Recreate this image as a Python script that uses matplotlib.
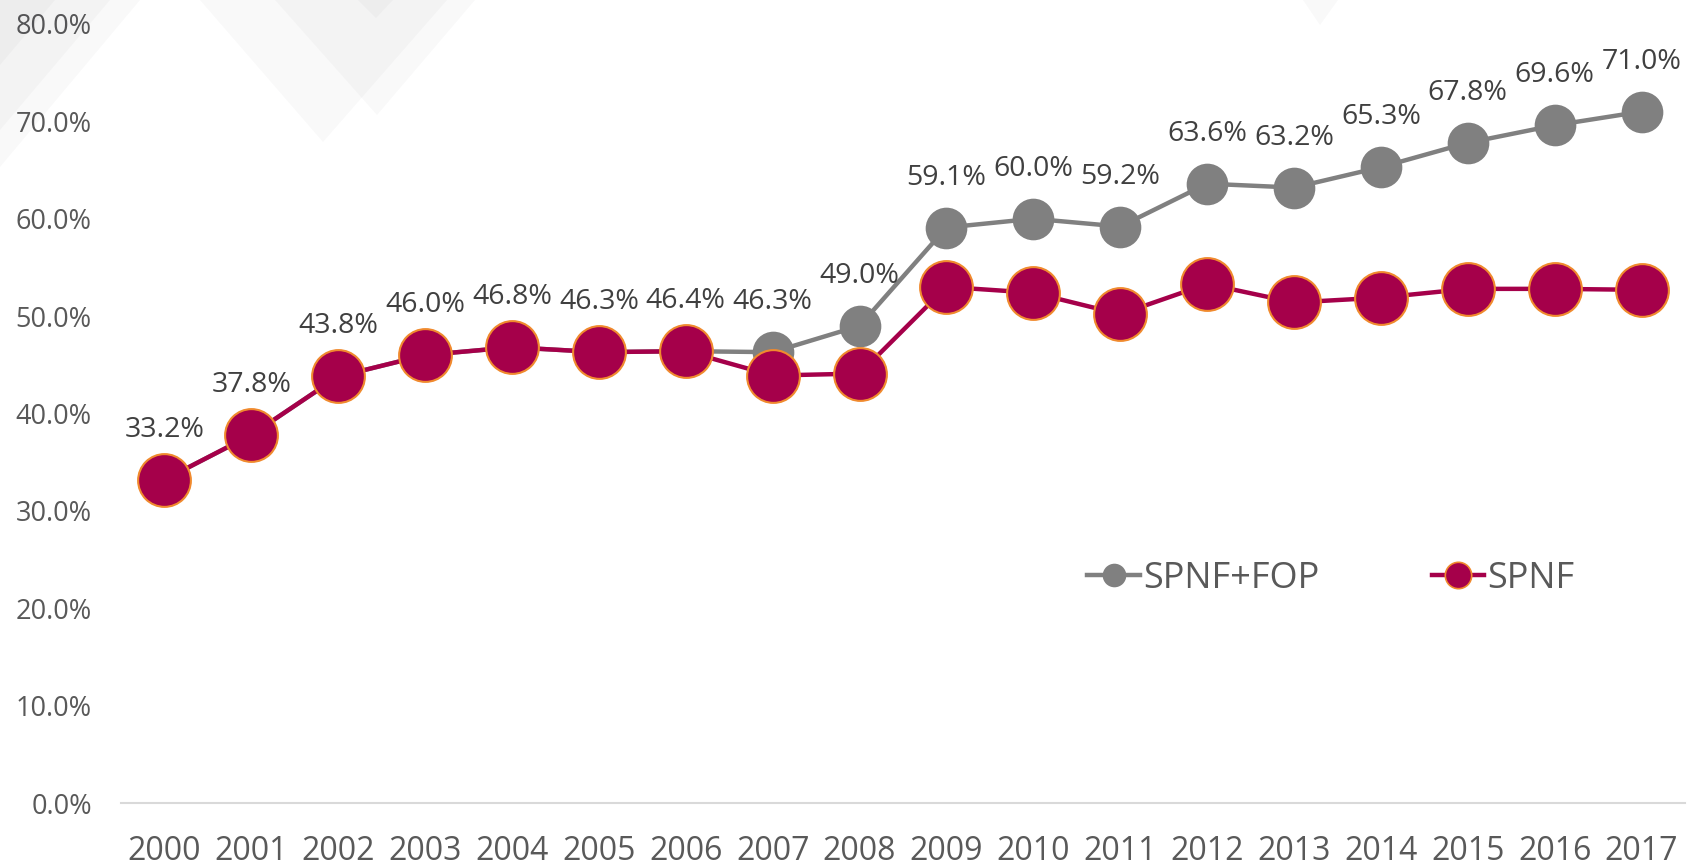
import matplotlib
matplotlib.use("Agg")
import matplotlib.pyplot as plt
from matplotlib.patches import Polygon
from matplotlib.lines import Line2D

years = [str(y) for y in range(2000, 2018)]
spnf_fop = [33.2, 37.8, 43.8, 46.0, 46.8, 46.3, 46.4, 46.3, 49.0, 59.1, 60.0, 59.2,
            63.6, 63.2, 65.3, 67.8, 69.6, 71.0]
spnf = [33.2, 37.8, 43.8, 46.0, 46.8, 46.3, 46.4, 43.9, 44.1, 53.0, 52.4, 50.2,
        53.3, 51.4, 51.9, 52.8, 52.8, 52.7]
yticks = [0, 10, 20, 30, 40, 50, 60, 70, 80]
series_names = ["SPNF+FOP", "SPNF"]

plt.rcParams['font.family'] = ['Open Sans', 'DejaVu Sans']

W, H = 1696, 866
fig = plt.figure(figsize=(W / 100, H / 100), dpi=100)
fig.patch.set_facecolor('white')

# faint background watermark triangles (pixel coords of the figure)
def tri(pts, alpha=0.026):
    p = Polygon([(x / W, 1 - y / H) for x, y in pts], closed=True,
                transform=fig.transFigure, facecolor='#30303c', edgecolor='none',
                alpha=alpha, zorder=0)
    fig.patches.append(p)

tri([(0, 0), (140, 0), (0, 167)])
tri([(0, 0), (110, 0), (0, 130)])
tri([(0, 0), (55, 0), (0, 65)])
tri([(200, 0), (323, 142), (447, 0)])
tri([(275, 0), (377, 115), (475, 0)])
tri([(358, 0), (376, 18), (393, 0)])
tri([(1303, 0), (1320, 25), (1338, 0)])

ax = fig.add_axes([121 / W, 1 - 803 / H, (1685 - 121) / W, (803 - 24) / H])
ax.patch.set_alpha(0)

x = list(range(len(years)))
gray = '#808080'
maroon = '#A5004A'
orange = '#F08A2E'

ax.plot(x, spnf_fop, color=gray, lw=3.2, marker='o', ms=30, mfc=gray, mec=gray,
        mew=0, zorder=2, clip_on=False, solid_capstyle='round')
ax.plot(x, spnf, color=maroon, lw=3.2, marker='o', ms=38, mfc=maroon, mec=orange,
        mew=1.5, zorder=3, clip_on=False, solid_capstyle='round')

for xi, v in zip(x, spnf_fop):
    ax.annotate(f"{v:.1f}%", (xi, v), xytext=(0, 36), textcoords='offset points',
                ha='center', va='center', fontsize=20.5, color='#404040', zorder=5)

ax.set_xlim(-0.5, 17.5)
ax.set_ylim(0, 80)
ax.set_xticks(x)
ax.set_xticklabels(years)
ax.set_yticks(yticks)
ax.set_yticklabels([f"{v:.1f}%" for v in yticks])
ax.tick_params(axis='both', length=0, colors='#595959')
ax.tick_params(axis='x', labelsize=23, pad=23)
ax.tick_params(axis='y', labelsize=19.5, pad=21)
for s in ['top', 'right', 'left']:
    ax.spines[s].set_visible(False)
ax.spines['bottom'].set_color('#d9d9d9')
ax.spines['bottom'].set_linewidth(1.5)

handles = [
    Line2D([0], [0], color=gray, lw=3.2, marker='o', ms=17, mfc=gray, mec=gray, mew=0),
    Line2D([0], [0], color=maroon, lw=3.2, marker='o', ms=19, mfc=maroon, mec=orange, mew=1.2),
]
leg = ax.legend(handles, series_names, loc='center', bbox_to_anchor=(1331 / W, 1 - 579 / H),
                bbox_transform=fig.transFigure, ncol=2, frameon=False, fontsize=26,
                handlelength=1.45, handletextpad=0.1, columnspacing=3.1, borderpad=0)
for t in leg.get_texts():
    t.set_color('#595959')

fig.savefig('out.png', dpi=100, facecolor='white')
